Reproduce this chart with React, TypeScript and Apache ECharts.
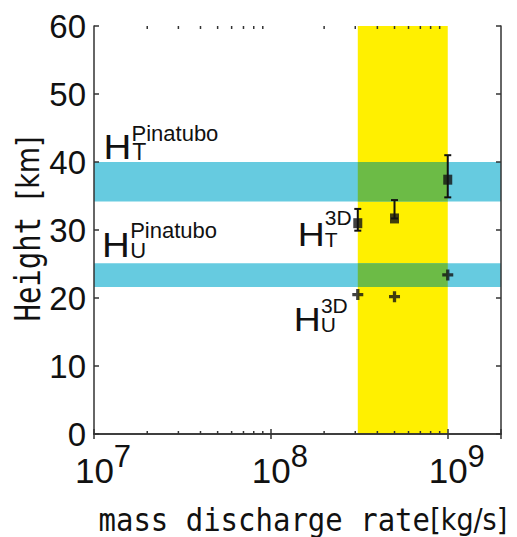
import React, { useEffect, useRef } from 'react';
import * as echarts from 'echarts';

// ---- data ----
const xMin = 1e7;
const xMax = 2e9;
const yMin = 0;
const yMax = 60;
const yInterval = 10;

const squareX = [3.1e8, 5e8, 1e9];
const squareY = [31.0, 31.7, 37.4];
const errLow = [29.9, 31.7, 34.8];
const errHigh = [33.1, 34.4, 41.0];

const plusX = [3.1e8, 5e8, 1e9];
const plusY = [20.5, 20.2, 23.4];

const yellowBand = [3.1e8, 1e9];
const topBand = [34.2, 40.0];
const umbrellaBand = [21.6, 25.1];

const minorTicks = [2e7, 3e7, 4e7, 5e7, 6e7, 7e7, 8e7, 9e7, 2e8, 3e8, 4e8, 5e8, 6e8, 7e8, 8e8, 9e8];

const xTitle = 'mass discharge rate';
const xUnit = '[kg/s]';
const yTitle = 'Height ';
const yUnit = '[km]';

const YELLOW = '#FFF000';
const CYAN = '#66CBE0';
const GREEN = '#6CBB46';
const INK = '#111111';
const AXIS = '#333333';
const SANS = '"Liberation Sans", Arial, sans-serif';

function txt(text: string, x: number, y: number, fontSize: number, scaleX = 1) {
  return {
    type: 'text',
    x,
    y,
    scaleX,
    z: 20,
    style: {
      text,
      fontSize,
      fontFamily: SANS,
      fill: INK,
      align: 'left',
      verticalAlign: 'middle',
    },
  };
}

export default function App() {
  const ref = useRef<HTMLDivElement>(null);

  useEffect(() => {
    if (!ref.current) return;
    const chart = echarts.init(ref.current, undefined, { renderer: 'svg' });

    const axisLine = { show: true, lineStyle: { color: AXIS, width: 1.5 } };
    const axisTick = { show: true, inside: true, length: 5, lineStyle: { color: AXIS, width: 1.5 } };

    const option: any = {
      animation: false,
      backgroundColor: '#ffffff',
      grid: { left: 94, right: 16, top: 26, bottom: 103, containLabel: false },
      xAxis: [
        {
          type: 'log',
          logBase: 10,
          min: xMin,
          max: xMax,
          position: 'bottom',
          z: 5,
          axisLine,
          axisTick,
          splitLine: { show: false },
          axisLabel: {
            margin: 19,
            formatter: (v: number) => {
              const e = Math.log10(v);
              if (Math.abs(e - Math.round(e)) < 1e-6) return `{pad|}{base|10}{sup|${Math.round(e)}}`;
              return '';
            },
            rich: {
              pad: { width: 18, fontSize: 35, lineHeight: 35 },
              base: { fontSize: 35, lineHeight: 35, fontFamily: SANS, color: INK },
              sup: { fontSize: 31, lineHeight: 31, fontFamily: SANS, color: INK, padding: [0, 0, 28, 0] },
            },
          },
        },
        {
          type: 'log',
          logBase: 10,
          min: xMin,
          max: xMax,
          position: 'top',
          z: 5,
          axisLine,
          axisTick,
          splitLine: { show: false },
          axisLabel: { show: false },
        },
      ],
      yAxis: [
        {
          type: 'value',
          min: yMin,
          max: yMax,
          interval: yInterval,
          position: 'left',
          z: 5,
          axisLine,
          axisTick,
          splitLine: { show: false },
          axisLabel: { margin: 8, fontSize: 33, fontFamily: SANS, color: INK },
        },
        {
          type: 'value',
          min: yMin,
          max: yMax,
          interval: yInterval,
          position: 'right',
          z: 5,
          axisLine,
          axisTick,
          splitLine: { show: false },
          axisLabel: { show: false },
        },
      ],
      series: [
        {
          type: 'scatter',
          name: 'H_T 3D',
          xAxisIndex: 0,
          yAxisIndex: 0,
          symbol: 'rect',
          symbolSize: [9, 10],
          itemStyle: { color: INK },
          z: 4,
          data: squareX.map((x, i) => [x, squareY[i]]),
          markArea: {
            silent: true,
            z: 1,
            label: { show: false },
            data: [
              [
                { xAxis: yellowBand[0], itemStyle: { color: YELLOW, opacity: 1 } },
                { xAxis: yellowBand[1] },
              ],
              [
                { yAxis: topBand[0], itemStyle: { color: CYAN, opacity: 1 } },
                { yAxis: topBand[1] },
              ],
              [
                { yAxis: umbrellaBand[0], itemStyle: { color: CYAN, opacity: 1 } },
                { yAxis: umbrellaBand[1] },
              ],
              [
                { xAxis: yellowBand[0], yAxis: topBand[0], itemStyle: { color: GREEN, opacity: 1 } },
                { xAxis: yellowBand[1], yAxis: topBand[1] },
              ],
              [
                { xAxis: yellowBand[0], yAxis: umbrellaBand[0], itemStyle: { color: GREEN, opacity: 1 } },
                { xAxis: yellowBand[1], yAxis: umbrellaBand[1] },
              ],
            ],
          },
        },
        {
          type: 'custom',
          name: 'error bars',
          xAxisIndex: 0,
          yAxisIndex: 0,
          z: 3,
          encode: { x: 0, y: [1, 2] },
          data: squareX.map((x, i) => [x, errLow[i], errHigh[i]]),
          renderItem: (params: any, api: any) => {
            const x = api.value(0);
            const lo = api.coord([x, api.value(1)]);
            const hi = api.coord([x, api.value(2)]);
            const cap = 3.5;
            const st = { stroke: INK, lineWidth: 2 };
            return {
              type: 'group',
              children: [
                { type: 'line', shape: { x1: lo[0], y1: lo[1], x2: hi[0], y2: hi[1] }, style: st },
                { type: 'line', shape: { x1: hi[0] - cap, y1: hi[1], x2: hi[0] + cap, y2: hi[1] }, style: st },
                { type: 'line', shape: { x1: lo[0] - cap, y1: lo[1], x2: lo[0] + cap, y2: lo[1] }, style: st },
              ],
            };
          },
        },
        {
          type: 'scatter',
          name: 'H_U 3D',
          xAxisIndex: 0,
          yAxisIndex: 0,
          symbol: 'path://M3.5,0H6.5V3.5H10V6.5H6.5V10H3.5V6.5H0V3.5H3.5Z',
          symbolSize: 11,
          itemStyle: { color: INK },
          z: 4,
          data: plusX.map((x, i) => [x, plusY[i]]),
        },
      ],
    };

    chart.setOption(option);

    const annotations: any[] = [
      // H_T^Pinatubo
      txt('H', 103.6, 147.5, 35, 1.1),
      txt('T', 132.2, 151.5, 23),
      txt('Pinatubo', 131.5, 133, 22),
      // H_U^Pinatubo
      txt('H', 101.9, 245.5, 35, 1.1),
      txt('U', 130.2, 250.5, 22),
      txt('Pinatubo', 130.2, 230.5, 22),
      // H_T^3D
      txt('H', 297.7, 234.7, 34, 1.1),
      txt('T', 324.8, 239.2, 21),
      txt('3D', 324.8, 217.5, 21),
      // H_U^3D
      txt('H', 293.7, 319.9, 34, 1.1),
      txt('U', 320.8, 324.2, 21),
      txt('3D', 320.9, 305.5, 21),
      // axis titles
      {
        type: 'text',
        x: 98.5,
        y: 519,
        scaleY: 1.12,
        z: 20,
        style: {
          text: `{a|${xTitle}}{b|${xUnit}}`,
          align: 'left',
          verticalAlign: 'middle',
          fill: INK,
          rich: {
            a: { fontFamily: '"DejaVu Sans Mono", monospace', fontSize: 29, fill: INK },
            b: { fontFamily: '"DejaVu Sans", sans-serif', fontSize: 27, fill: INK },
          },
        },
      },
      {
        type: 'text',
        x: 28,
        y: 229,
        rotation: Math.PI / 2,
        scaleY: 1.2,
        z: 20,
        style: {
          text: `{a|${yTitle}}{b|${yUnit}}`,
          align: 'center',
          verticalAlign: 'middle',
          fill: INK,
          rich: {
            a: { fontFamily: '"DejaVu Sans Mono", monospace', fontSize: 29, fill: INK },
            b: { fontFamily: '"DejaVu Sans", sans-serif', fontSize: 27, fill: INK },
          },
        },
      },
    ];

    // minor log ticks (inside, bottom and top), positioned through the x axis scale
    const yb = chart.convertToPixel({ yAxisIndex: 0 }, yMin) as number;
    const yt = chart.convertToPixel({ yAxisIndex: 0 }, yMax) as number;
    const tickStyle = { stroke: AXIS, lineWidth: 1.5 };
    const tickLines: any[] = [];
    minorTicks.forEach((v) => {
      const px = chart.convertToPixel({ xAxisIndex: 0 }, v) as number;
      tickLines.push({ type: 'line', z: 30, silent: true, shape: { x1: px, y1: yb, x2: px, y2: yb - 3 }, style: tickStyle });
      tickLines.push({ type: 'line', z: 30, silent: true, shape: { x1: px, y1: yt, x2: px, y2: yt + 3 }, style: tickStyle });
    });

    chart.setOption({ graphic: [...annotations, ...tickLines] });
    return () => chart.dispose();
  }, []);

  return (
    <div
      ref={ref}
      style={{ position: 'fixed', left: 0, top: 0, width: 517, height: 537, background: '#fff' }}
    />
  );
}
